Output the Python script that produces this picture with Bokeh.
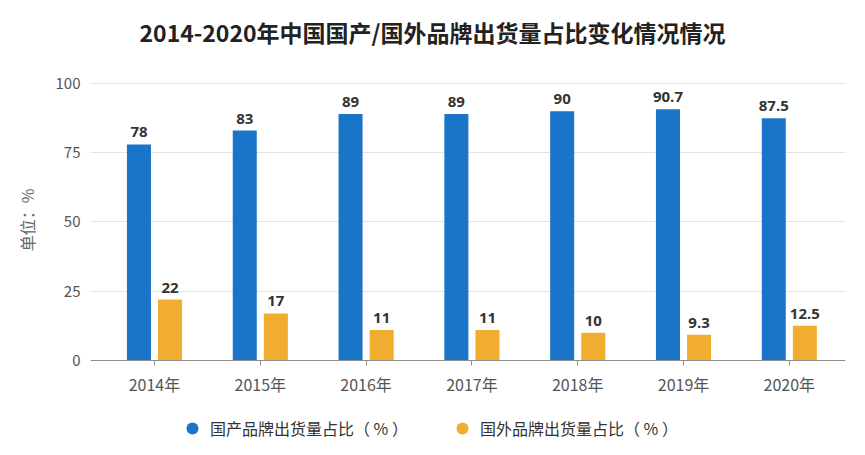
from bokeh.plotting import figure
from bokeh.models import (ColumnDataSource, Range1d, FixedTicker, Label, Legend, LegendItem)
from bokeh.transform import dodge
from bokeh.core.properties import value
from bokeh.embed import file_html
from bokeh.resources import INLINE

# ---- data ----
years = ["2014年", "2015年", "2016年", "2017年", "2018年", "2019年", "2020年"]
domestic = [78, 83, 89, 89, 90, 90.7, 87.5]
foreign = [22, 17, 11, 11, 10, 9.3, 12.5]
y_ticks = [0, 25, 50, 75, 100]
title_text = "2014-2020年中国国产/国外品牌出货量占比变化情况情况"
series_names = ["国产品牌出货量占比（ % ）", "国外品牌出货量占比（ % ）"]
y_label = "单位：%"

BLUE = "#1a74c7"
ORANGE = "#f1ad2f"
CJK = "Noto Sans CJK SC"

idx = list(range(len(years)))
src = ColumnDataSource(dict(
    idx=idx,
    dom=domestic,
    frn=foreign,
    dom_txt=[f"{v:g}" for v in domestic],
    frn_txt=[f"{v:g}" for v in foreign],
))

# frame spans (almost) the whole height so title and legend are inside it;
# the x axis is pinned at y = 0
p = figure(width=865, height=455, output_backend="svg", toolbar_location=None,
           x_range=Range1d(-0.605, 6.531), y_range=Range1d(-28.52, 129.964),
           min_border_left=90, min_border_right=20, min_border_top=0, min_border_bottom=16)
p.outline_line_color = None
p.background_fill_color = "white"
p.border_fill_color = "white"

off = 0.147
bw = 0.227
p.vbar(x=dodge("idx", -off), top="dom", bottom=0, width=bw, source=src, fill_color=BLUE, line_color=None)
p.vbar(x=dodge("idx", off), top="frn", bottom=0, width=bw, source=src, fill_color=ORANGE, line_color=None)

p.text(x=dodge("idx", -off), y="dom", text="dom_txt", source=src, text_align="center",
       text_baseline="alphabetic", y_offset=-12, text_font=value("Open Sans"),
       text_font_style="bold", text_font_size="15px", text_color="#333333")
p.text(x=dodge("idx", off), y="frn", text="frn_txt", source=src, text_align="center",
       text_baseline="alphabetic", y_offset=-12, text_font=value("Open Sans"),
       text_font_style="bold", text_font_size="15px", text_color="#333333")

# axes
p.xaxis.fixed_location = 0
p.xaxis.ticker = FixedTicker(ticks=idx)
p.xaxis.major_label_overrides = {i: y for i, y in zip(idx, years)}
p.xaxis.minor_tick_line_color = None
p.xaxis.major_tick_in = 0
p.xaxis.major_tick_out = 5
p.xaxis.major_tick_line_color = "#8c8c8c"
p.xaxis.axis_line_color = "#8c8c8c"
p.xaxis.major_label_standoff = 7
p.xaxis.major_label_text_font = CJK
p.xaxis.major_label_text_font_size = "16px"
p.xaxis.major_label_text_color = "#555555"

p.yaxis.ticker = FixedTicker(ticks=y_ticks)
p.yaxis.axis_line_color = None
p.yaxis.major_tick_line_color = None
p.yaxis.minor_tick_line_color = None
p.yaxis.major_tick_out = 0
p.yaxis.major_label_standoff = 10
p.yaxis.major_label_text_font = CJK
p.yaxis.major_label_text_font_size = "15px"
p.yaxis.major_label_text_color = "#555555"
p.yaxis.axis_label = y_label
p.yaxis.axis_label_text_font = CJK
p.yaxis.axis_label_text_font_style = "normal"
p.yaxis.axis_label_text_font_size = "16px"
p.yaxis.axis_label_text_color = "#666666"
p.yaxis.axis_label_standoff = 14

p.xgrid.grid_line_color = None
p.ygrid.grid_line_color = "#e3e3e3"
p.ygrid.ticker = FixedTicker(ticks=[t for t in y_ticks if t > 0])

# title (screen units relative to the frame's bottom-left corner)
p.add_layout(Label(x=342, y=408, x_units="screen", y_units="screen", text=title_text,
                   text_align="center", text_baseline="middle", text_font=CJK,
                   text_font_style="bold", text_font_size="23px", text_color="#222222"))

# legend (hidden scatter renderers only supply the round legend glyphs)
r1 = p.scatter(x=dodge("idx", -off), y="dom", source=src, size=12, fill_color=BLUE,
               line_color=None, visible=False)
r2 = p.scatter(x=dodge("idx", off), y="frn", source=src, size=12, fill_color=ORANGE,
               line_color=None, visible=False)
for r, name, loc in [(r1, series_names[0], (87, -4)), (r2, series_names[1], (357, -4))]:
    lg = Legend(items=[LegendItem(label=name, renderers=[r])], location=loc,
                orientation="horizontal", glyph_width=30, glyph_height=30,
                label_standoff=3, padding=0, margin=0, border_line_color=None,
                background_fill_alpha=0, label_text_font=CJK,
                label_text_font_size="16px", label_text_color="#333333")
    p.add_layout(lg)

open("out.html", "w").write(file_html(p, INLINE))
